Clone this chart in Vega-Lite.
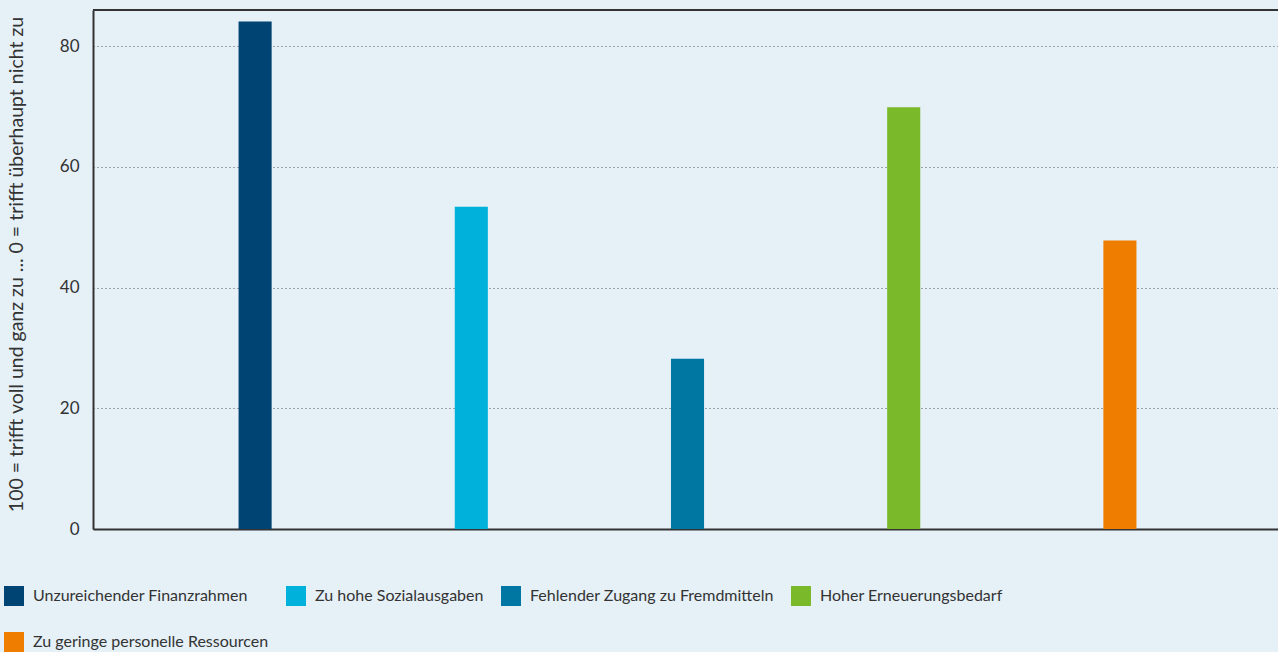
{
  "$schema": "https://vega.github.io/schema/vega-lite/v6.json",
  "autosize": "none",
  "width": 1185,
  "height": 519,
  "padding": {"left": 93, "top": 10, "right": 0, "bottom": 123},
  "background": "#e5f0f7",
  "config": {
    "font": "Lato",
    "view": {"stroke": null},
    "axis": {"labelColor": "#333333", "titleColor": "#333333"}
  },
  "data": {
    "values": [
      {"kategorie": "Unzureichender Finanzrahmen", "wert": 84.1},
      {"kategorie": "Zu hohe Sozialausgaben", "wert": 53.4},
      {"kategorie": "Fehlender Zugang zu Fremdmitteln", "wert": 28.2},
      {"kategorie": "Hoher Erneuerungsbedarf", "wert": 69.9},
      {"kategorie": "Zu geringe personelle Ressourcen", "wert": 47.8}
    ]
  },
  "layer": [
    {
      "mark": {"type": "bar"},
      "encoding": {
        "x": {
          "field": "kategorie",
          "type": "nominal",
          "sort": null,
          "scale": {"paddingInner": 0.847, "paddingOuter": 0.664, "align": 0.507},
          "axis": {
            "labels": false,
            "ticks": false,
            "title": null,
            "domain": true,
            "domainColor": "#333333",
            "domainWidth": 2,
            "grid": false
          }
        },
        "y": {
          "field": "wert",
          "type": "quantitative",
          "scale": {"domain": [0, 86], "nice": false},
          "axis": {
            "values": [0, 20, 40, 60, 80],
            "title": "100 = trifft voll und ganz zu ... 0 = trifft überhaupt nicht zu",
            "titleFontSize": 19.5,
            "titleFontWeight": "normal",
            "titlePadding": 33,
            "titleY": 254,
            "labelFontSize": 17,
            "labelPadding": 14,
            "ticks": false,
            "domain": true,
            "domainColor": "#333333",
            "domainWidth": 2,
            "grid": true,
            "gridColor": "#555555",
            "gridDash": [1, 3],
            "gridWidth": 1
          }
        },
        "color": {
          "field": "kategorie",
          "type": "nominal",
          "scale": {
            "domain": [
              "Unzureichender Finanzrahmen",
              "Zu hohe Sozialausgaben",
              "Fehlender Zugang zu Fremdmitteln",
              "Hoher Erneuerungsbedarf",
              "Zu geringe personelle Ressourcen"
            ],
            "range": ["#004474", "#00b1dc", "#0076a3", "#7ab929", "#ef7d00"]
          },
          "legend": {
            "orient": "none",
            "direction": "horizontal",
            "legendX": -89,
            "legendY": 576,
            "title": null,
            "columns": 4,
            "columnPadding": 17,
            "rowPadding": 26,
            "symbolType": "square",
            "symbolSize": 400,
            "symbolStrokeWidth": 0,
            "symbolOpacity": 1,
            "labelFontSize": 16,
            "labelColor": "#333333",
            "labelOffset": 9,
            "labelLimit": 400
          }
        }
      }
    },
    {
      "mark": {"type": "rule", "stroke": "#333333", "strokeWidth": 2},
      "encoding": {"y": {"datum": 86}}
    }
  ]
}
